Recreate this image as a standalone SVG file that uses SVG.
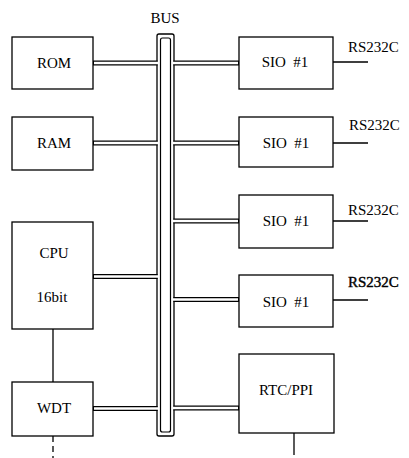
<svg xmlns="http://www.w3.org/2000/svg" width="409" height="458" viewBox="0 0 409 458">
<style>
.box{fill:#fff;stroke:#000;stroke-width:1.3}
text{font-family:'Liberation Serif','Times New Roman','DejaVu Serif',serif;font-size:15px;fill:#000;white-space:pre}
.t{text-anchor:middle}
.ln{stroke:#000;stroke-width:1.3;fill:none}
.dbo{stroke:#000;stroke-width:5.2;fill:none}
.dbi{stroke:#fff;stroke-width:2.6;fill:none}
</style>
<rect width="409" height="458" fill="#fff"/>
<g id="bus">
<rect x="157" y="34" width="17" height="402" rx="2" fill="#fff" stroke="#000" stroke-width="1.3"/>
<rect x="160.5" y="38" width="10" height="394" rx="2" fill="#fff" stroke="#000" stroke-width="1.2"/>
<text class="t" x="165" y="23" font-family="Liberation Serif, serif">BUS</text>
</g>
<g id="connectors">
<path class="dbo" d="M93 63H157.6M93 143H157.6M93 276.5H157.6M93 408.5H157.6"/>
<path class="dbi" d="M94 63H158.8M94 143H158.8M94 276.5H158.8M94 408.5H158.8"/>
<path class="dbo" d="M173.4 63H239M173.4 143H239M173.4 221H239M173.4 299.5H239M173.4 408H239"/>
<path class="dbi" d="M172.2 63H238M172.2 143H238M172.2 221H238M172.2 299.5H238M172.2 408H238"/>
<path class="ln" d="M53 329V382"/>
<path class="ln" d="M53 436V458" stroke-dasharray="6 4"/>
<path class="ln" d="M294 433V455"/>
<path class="ln" d="M333 62H368M333 143H368M333 221H368M333 300H368"/>
</g>
<g id="rom"><rect class="box" x="12" y="37" width="81" height="52"/><text class="t" x="54" y="68">ROM</text></g>
<g id="ram"><rect class="box" x="12" y="117" width="81" height="53"/><text class="t" x="54" y="148">RAM</text></g>
<g id="cpu"><rect class="box" x="12" y="222" width="81" height="107"/><text class="t" x="54" y="258">CPU</text><text class="t" x="52" y="302">16bit</text></g>
<g id="wdt"><rect class="box" x="12" y="382" width="81" height="54"/><text class="t" x="54" y="413">WDT</text></g>
<g id="sio1"><rect class="box" x="239" y="37" width="94" height="52"/><text class="t" x="285" y="67" xml:space="preserve">SIO  #1</text><text x="348" y="52">RS232C</text></g>
<g id="sio2"><rect class="box" x="239" y="117" width="94" height="50"/><text class="t" x="286" y="148" xml:space="preserve">SIO  #1</text><text x="349" y="130">RS232C</text></g>
<g id="sio3"><rect class="box" x="239" y="195" width="94" height="53"/><text class="t" x="286" y="226" xml:space="preserve">SIO  #1</text><text x="348" y="215">RS232C</text></g>
<g id="sio4"><rect class="box" x="239" y="275" width="94" height="52"/><text class="t" x="286" y="307" xml:space="preserve">SIO  #1</text><text x="348" y="287" stroke="#000" stroke-width="0.4">RS232C</text></g>
<g id="rtc"><rect class="box" x="239" y="354" width="95" height="79"/><text class="t" x="286" y="395">RTC/PPI</text></g>
</svg>
